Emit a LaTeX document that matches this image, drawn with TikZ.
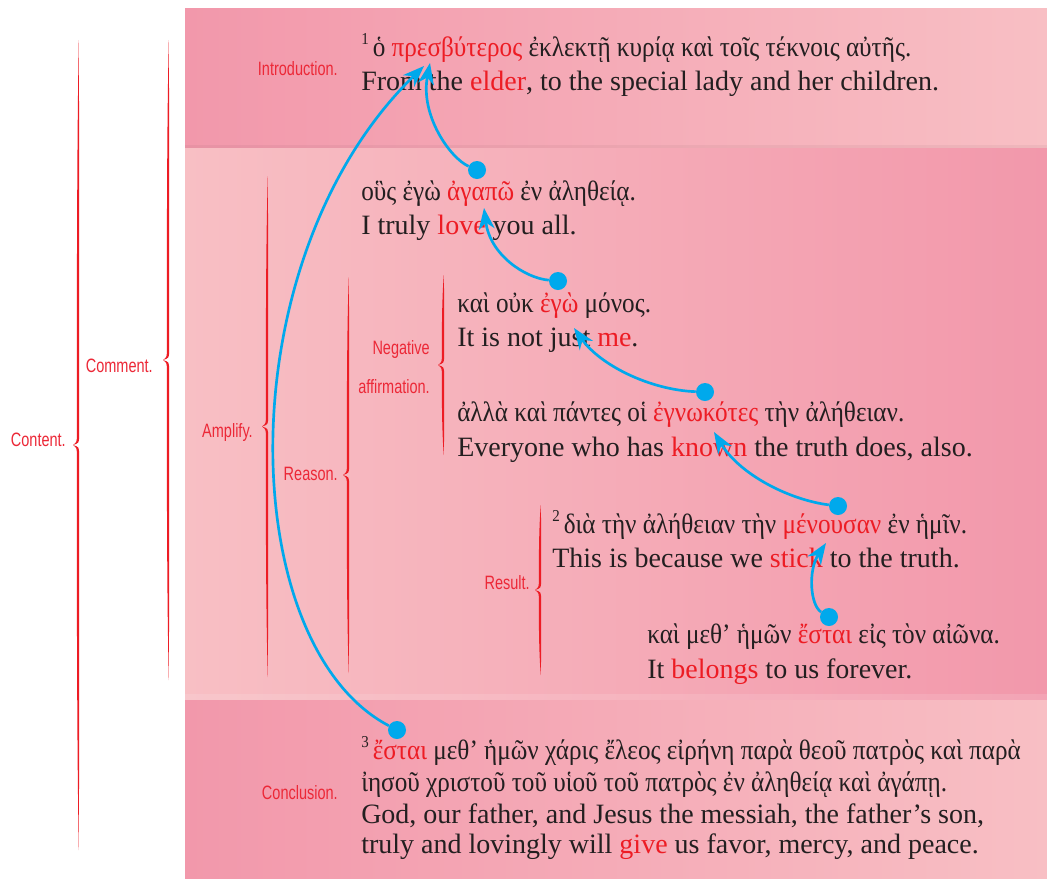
\documentclass[tikz,border=0pt]{standalone}
\usepackage{fontspec}
\setmainfont{Liberation Serif}
\newfontfamily\grk[FakeStretch=0.9]{Liberation Serif}
\newfontfamily\labfont[FakeStretch=0.75]{Liberation Sans}
\usetikzlibrary{arrows.meta}
\definecolor{ink}{RGB}{35,31,32}
\definecolor{hl}{RGB}{237,28,36}
\definecolor{lab}{RGB}{236,40,55}
\definecolor{arrowblue}{RGB}{0,169,236}
\definecolor{pinkdark}{RGB}{242,152,171}
\definecolor{pinklight}{RGB}{248,191,196}
\newcommand\hw[1]{\textcolor{hl}{#1}}
\newcommand\vnum[1]{\raisebox{0.4em}{\fontsize{12.5}{12.5}\selectfont #1}\hspace{3pt}}
% tapered curly brace: body at x=#1 from y=#2 to y=#3, tip pointing left
\newcommand\tbrace[3]{%
  \pgfmathsetmacro\bM{(#2+#3)/2}%
  \pgfmathsetmacro\bH{(#3-#2)/2}%
  \fill[hl] (#1+0.8,#2)
    .. controls (#1-1.4,#2+0.3*\bH) and (#1-1.1,\bM-0.25*\bH) .. (#1-1.2,\bM-9)
    .. controls (#1-1.2,\bM-3) .. (#1-5,\bM)
    .. controls (#1-1.2,\bM+3) .. (#1-1.2,\bM+9)
    .. controls (#1-1.1,\bM+0.25*\bH) and (#1-1.4,#3-0.3*\bH) .. (#1+0.8,#3)
    .. controls (#1+1.3,#3-0.3*\bH) and (#1+1.3,\bM+0.25*\bH) .. (#1+1.1,\bM+9)
    .. controls (#1+1.0,\bM+2) .. (#1-5,\bM)
    .. controls (#1+1.0,\bM-2) .. (#1+1.1,\bM-9)
    .. controls (#1+1.3,\bM-0.25*\bH) and (#1+1.3,#2+0.3*\bH) .. cycle;}
\begin{document}
\begin{tikzpicture}[x=0.75pt,y=-0.75pt,
  line/.style={font=\fontsize{21}{25}\selectfont, text=ink, anchor=base west, inner sep=0pt},
  gline/.style={line, font=\grk\fontsize{21}{25}\selectfont},
  tag/.style={font=\labfont\fontsize{14.5}{17}\selectfont, text=lab, anchor=east, inner sep=0pt},
  dot/.style={circle, fill=arrowblue, minimum size=13.5pt, inner sep=0pt},
  link/.style={draw=arrowblue, line width=2pt, -{Stealth[length=16pt,width=12pt,inset=5pt]}}]
\useasboundingbox (0,0) rectangle (1047,879);
\fill[white] (0,0) rectangle (1047,879);

% three bands
\shade[left color=pinkdark, right color=pinklight] (185,8) rectangle (1047,148);
\shade[left color=pinklight, right color=pinkdark] (185,148) rectangle (1047,700);
\shade[left color=pinkdark, right color=pinklight] (185,700) rectangle (1047,879);
\fill[black, opacity=0.04] (185,145) rectangle (1047,148);
\fill[white, opacity=0.12] (185,694) rectangle (1047,700);

% braces
\tbrace{78}{40}{850}
\tbrace{168}{40}{680}
\tbrace{267}{176}{677}
\tbrace{348}{277}{673}
\tbrace{443}{275}{455}
\tbrace{540}{505}{675}

% structure labels
\node[tag] (lContent) at (66,440) {Content.};
\node[tag] (lComment) at (153,366) {Comment.};
\node[tag] (lIntro) at (338,69) {Introduction.};
\node[tag] (lAmplify) at (253,432) {Amplify.};
\node[tag] (lReason) at (338,474) {Reason.};
\node[tag] (lNeg) at (430,349) {Negative};
\node[tag] (lAff) at (430,387) {affirmation.};
\node[tag] (lResult) at (530,583) {Result.};
\node[tag] (lConcl) at (338,793) {Conclusion.};

% text lines
\node[gline] (g1) at (361,56) {\vnum{1}ὁ \hw{πρεσβύτερος} ἐκλεκτῇ κυρίᾳ καὶ τοῖς τέκνοις αὐτῆς.};
\node[line] (e1) at (361,90) {From the \hw{elder}, to the special lady and her children.};
\node[gline] (g2) at (361,200) {οὓς ἐγὼ \hw{ἀγαπῶ} ἐν ἀληθείᾳ.};
\node[line] (e2) at (361,234) {I truly \hw{love} you all.};
\node[gline] (g3) at (457,312) {καὶ οὐκ \hw{ἐγὼ} μόνος.};
\node[line] (e3) at (457,346) {It is not just \hw{me}.};
\node[gline] (g4) at (457,421) {ἀλλὰ καὶ πάντες οἱ \hw{ἐγνωκότες} τὴν ἀλήθειαν.};
\node[line] (e4) at (457,456) {Everyone who has \hw{known} the truth does, also.};
\node[gline] (g5) at (552,533) {\vnum{2}διὰ τὴν ἀλήθειαν τὴν \hw{μένουσαν} ἐν ἡμῖν.};
\node[line] (e5) at (552,567) {This is because we \hw{stick} to the truth.};
\node[gline] (g6) at (647,643) {καὶ μεθ’ ἡμῶν \hw{ἔσται} εἰς τὸν αἰῶνα.};
\node[line] (e6) at (647,678) {It \hw{belongs} to us forever.};
\node[gline] (g7) at (361,759) {\vnum{3}\hw{ἔσται} μεθ’ ἡμῶν χάρις ἔλεος εἰρήνη παρὰ θεοῦ πατρὸς καὶ παρὰ};
\node[gline] (g8) at (361,791) {ἰησοῦ χριστοῦ τοῦ υἱοῦ τοῦ πατρὸς ἐν ἀληθείᾳ καὶ ἀγάπῃ.};
\node[line] (e7) at (361,823) {God, our father, and Jesus the messiah, the father’s son,};
\node[line] (e8) at (361,853) {truly and lovingly will \hw{give} us favor, mercy, and peace.};

% arrow targets
\coordinate (t1) at (424,66);
\coordinate (t2) at (430,63);
\coordinate (t3) at (484,208);
\coordinate (t4) at (574,328);
\coordinate (t5) at (714,432);
\coordinate (t6) at (826,543);

% source dots
\node[dot] (d1) at (397,730) {};
\node[dot] (d2) at (477,170) {};
\node[dot] (d3) at (558,281) {};
\node[dot] (d4) at (705,392) {};
\node[dot] (d5) at (838,506) {};
\node[dot] (d6) at (829,617) {};

% links
\draw[link] (d1) .. controls (235,645) and (225,260) .. (t1);
\draw[link] (d2) .. controls (450,158) and (420,115) .. (t2);
\draw[link] (d3) .. controls (525,278) and (490,255) .. (t3);
\draw[link] (d4) .. controls (650,390) and (600,365) .. (t4);
\draw[link] (d5) .. controls (790,500) and (740,475) .. (t5);
\draw[link] (d6) .. controls (810,605) and (808,570) .. (t6);
\end{tikzpicture}
\end{document}
